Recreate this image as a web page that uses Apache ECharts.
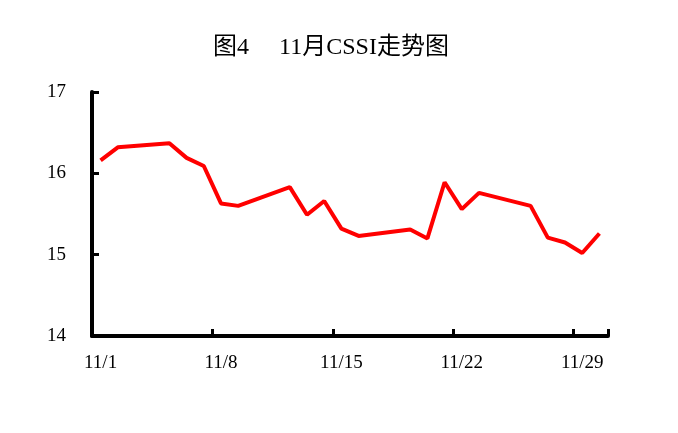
<!DOCTYPE html>
<html><head><meta charset="utf-8">
<script src="https://cdn.jsdelivr.net/npm/echarts@6/dist/echarts.min.js"></script>
<style>html,body{margin:0;padding:0;background:#fff}#c{width:678px;height:433px}</style>
</head><body><div id="c"></div>
<script>
const categories = ['11/1','11/2','11/3','11/4','11/5','11/6','11/7','11/8','11/9','11/10','11/11','11/12','11/13','11/14','11/15','11/16','11/17','11/18','11/19','11/20','11/21','11/22','11/23','11/24','11/25','11/26','11/27','11/28','11/29','11/30'];
const cssi = [16.16,16.32,null,null,16.37,16.19,16.09,15.63,15.60,null,null,15.83,15.49,15.66,15.32,15.23,null,null,15.31,15.20,15.89,15.56,15.76,null,null,15.60,15.21,15.15,15.02,15.26];
const yTicks = [14,15,16,17];
const titleText = '图4　 11月CSSI走势图';

const chart = echarts.init(document.getElementById('c'));
chart.setOption({
  animation:false,
  backgroundColor:'#fff',
  title:{text:titleText,left:326,textAlign:'center',top:31,
    textStyle:{fontFamily:'"Liberation Serif","Noto Sans CJK SC",serif',fontSize:24,fontWeight:'normal',color:'#000'}},
  grid:{left:92,right:70,top:92,bottom:97},
  xAxis:{type:'category',data:categories,boundaryGap:true,
    axisLine:{show:true,lineStyle:{color:'#000',width:4}},
    axisTick:{show:true,inside:true,length:7,interval:function(i){return i%7===0 && i<categories.length;},lineStyle:{color:'#000',width:3}},
    axisLabel:{show:true,interval:6,margin:18,color:'#000',fontSize:19,fontFamily:'"Liberation Serif",serif'}},
  yAxis:{type:'value',min:yTicks[0],max:yTicks[yTicks.length-1],interval:1,
    splitLine:{show:false},
    axisLine:{show:true,lineStyle:{color:'#000',width:4}},
    axisTick:{show:true,inside:true,length:7,lineStyle:{color:'#000',width:3}},
    axisLabel:{margin:26,color:'#000',fontSize:19,fontFamily:'"Liberation Serif",serif',verticalAlign:'middle',padding:[4,0,0,0]}},
  series:[{type:'line',data:cssi,connectNulls:true,showSymbol:false,symbol:'none',
    lineStyle:{color:'#FF0000',width:4},itemStyle:{color:'#FF0000'}}]
});
</script></body></html>
